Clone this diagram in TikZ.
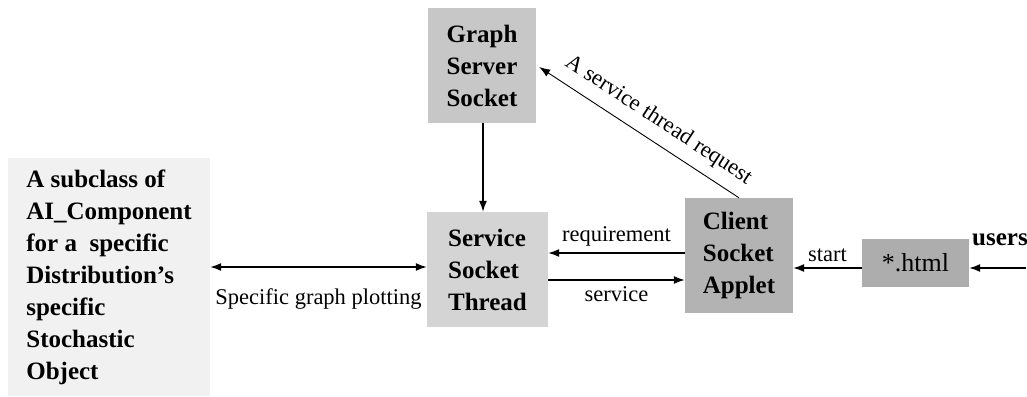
\documentclass[tikz,border=0pt]{standalone}
\usepackage{fontspec}
\setmainfont{Liberation Serif}
\usetikzlibrary{arrows.meta,calc}

\definecolor{paleGray}{HTML}{F1F1F1}
\definecolor{lightGray}{HTML}{D4D4D4}
\definecolor{midGray}{HTML}{C7C7C7}
\definecolor{darkGray}{HTML}{B3B3B3}
\definecolor{htmlGray}{HTML}{ADADAD}

\tikzset{
  box/.style={rectangle, inner sep=0pt, font=\fontsize{25}{32}\selectfont\bfseries},
  lbl/.style={font=\fontsize{22.5}{25}\selectfont, inner sep=2pt},
  arr/.style={line width=1.4pt, -{Latex[length=11pt,width=8pt]}},
  darr/.style={line width=1.4pt, {Latex[length=11pt,width=8pt]}-{Latex[length=11pt,width=8pt]}},
  thinback/.style={line width=0.9pt, {Latex[length=11pt,width=8pt]}-},
}

\begin{document}
\begin{tikzpicture}[x=1pt,y=-1pt]
  \useasboundingbox (0,0) rectangle (1027,396);

  % component boxes
  \node[box, fill=paleGray, minimum width=202pt, minimum height=238pt, align=left]
    (sub) at (109,277) {A subclass of\\AI\_Component\\for a \ specific\\Distribution’s\\specific\\Stochastic\\Object};
  \node[box, fill=midGray, minimum width=108pt, minimum height=115pt, align=center]
    (graph) at (482,65.5) {Graph\\Server\\Socket};
  \node[box, fill=lightGray, minimum width=121pt, minimum height=115pt, align=left]
    (svc) at (487.5,269.5) {Service\\Socket\\Thread};
  \node[box, fill=darkGray, minimum width=108pt, minimum height=115pt, align=left]
    (client) at (739,255.5) {Client\\Socket\\Applet};
  \node[rectangle, inner sep=0pt, fill=htmlGray, minimum width=107pt, minimum height=48pt,
        font=\fontsize{26}{30}\selectfont]
    (html) at (915.5,263) {*.html};
  \node[box] (users) at (1000,240) {users};
  \coordinate (uin) at (1026,268);

  % connectors
  \draw[arr] (uin) -- (uin -| html.east);
  \draw[arr] ([yshift=-5pt]html.west) -- node[lbl, above=4pt] {start}
             ([yshift=-5pt]html.west -| client.east);
  \draw[arr] ([yshift=2.5pt]client.west) -- node[lbl, above=4pt] {requirement}
             ([yshift=2.5pt]client.west -| svc.east);
  \draw[arr] ([yshift=-10.5pt]svc.east) -- node[lbl, below=4pt] {service}
             ([yshift=-10.5pt]svc.east -| client.west);
  \draw[arr] ([xshift=1pt]graph.south) -- ([xshift=1pt]graph.south |- svc.north);
  \draw[thinback] ([xshift=3pt,yshift=-1.5pt]graph.east) -- node[lbl, sloped, above=8pt, pos=0.54]
             {A service thread request} (client.north);
  \draw[darr] ([yshift=10pt]sub.east) -- node[lbl, below=19pt] {Specific graph plotting}
             ([yshift=10pt]sub.east -| svc.west);
\end{tikzpicture}
\end{document}
